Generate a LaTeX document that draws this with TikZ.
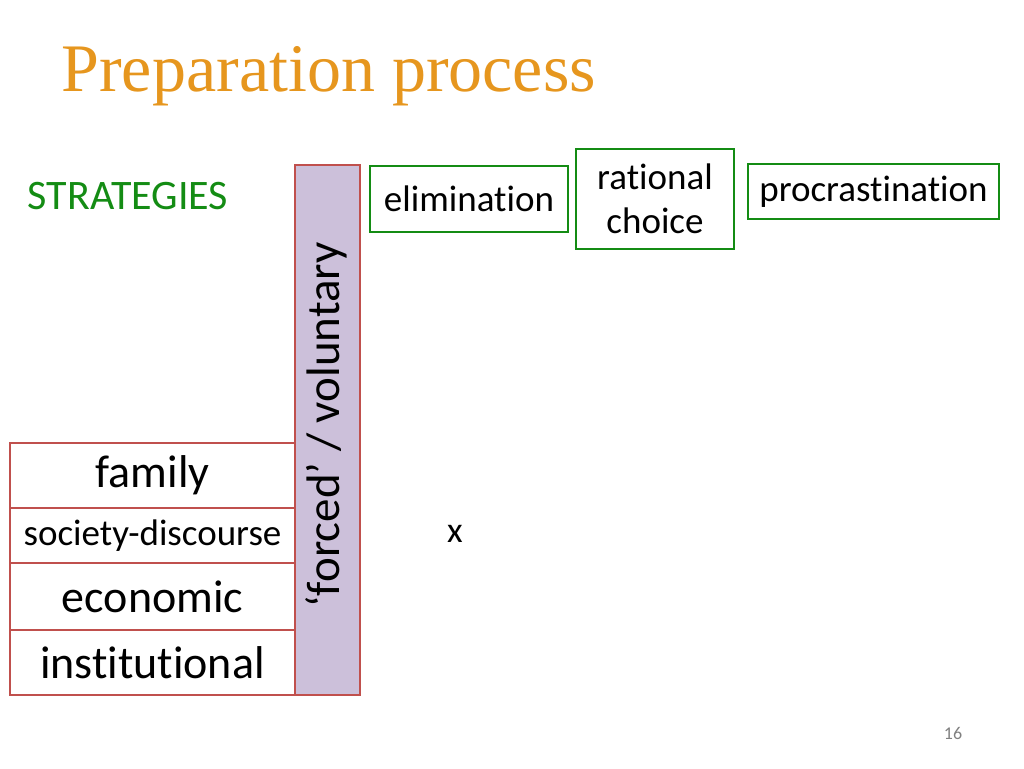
\documentclass[tikz,border=0pt]{standalone}
\usepackage{fontspec}
\setmainfont[Ligatures=NoCommon]{Carlito}
\newfontfamily\titlefont{Liberation Serif}
\begin{document}
\begin{tikzpicture}[x=1pt,y=-1pt,
  greenbox/.style={draw=grn,line width=2pt,inner sep=0pt,align=center},
  fs/.style={font=\fontsize{#1}{#1}\selectfont}]
\useasboundingbox (0,0) rectangle (1024,768);
\definecolor{titleor}{RGB}{230,150,30}
\definecolor{lilac}{RGB}{204,192,218}
\definecolor{redb}{RGB}{192,80,77}
\definecolor{grn}{RGB}{20,140,20}
\node[anchor=west,text=titleor,fs=68] (title) at (58,76) {\titlefont Preparation process};
\node[text=grn,fs=42] (strat) at (128,196) {STRATEGIES};
\node[draw=redb,fill=lilac,line width=2pt,minimum width=65pt,minimum height=530pt,inner sep=0pt] (bar) at (327.5,430) {};
\node[rotate=90,fs=47] (fv) at (326,425) {‘forced’ / voluntary};
\node[draw=redb,line width=2pt,minimum width=285pt,minimum height=65pt,fs=46] (fam) at (152.5,475.5) {family};
\node[draw=redb,line width=2pt,minimum width=285pt,minimum height=55pt,fs=37] (soc) at (152.5,535.5) {society-discourse};
\node[draw=redb,line width=2pt,minimum width=285pt,minimum height=67pt,fs=46] (eco) at (152.5,596.5) {economic};
\node[draw=redb,line width=2pt,minimum width=285pt,minimum height=65pt,fs=46] (inst) at (152.5,662.5) {institutional};
\node[greenbox,minimum width=198pt,minimum height=66pt,fs=37] (elim) at (469,199) {elimination};
\node[greenbox,minimum width=158pt,minimum height=100pt,fs=37] (rat) at (655,199) {rational\\[7pt]choice};
\node[greenbox,minimum width=251pt,minimum height=55pt,fs=37] (proc) at (873.5,191.5) {procrastination};
\node[fs=36] (x) at (455,534) {x};
\node[text=gray,fs=18] (pg) at (953,733) {16};
\end{tikzpicture}
\end{document}
